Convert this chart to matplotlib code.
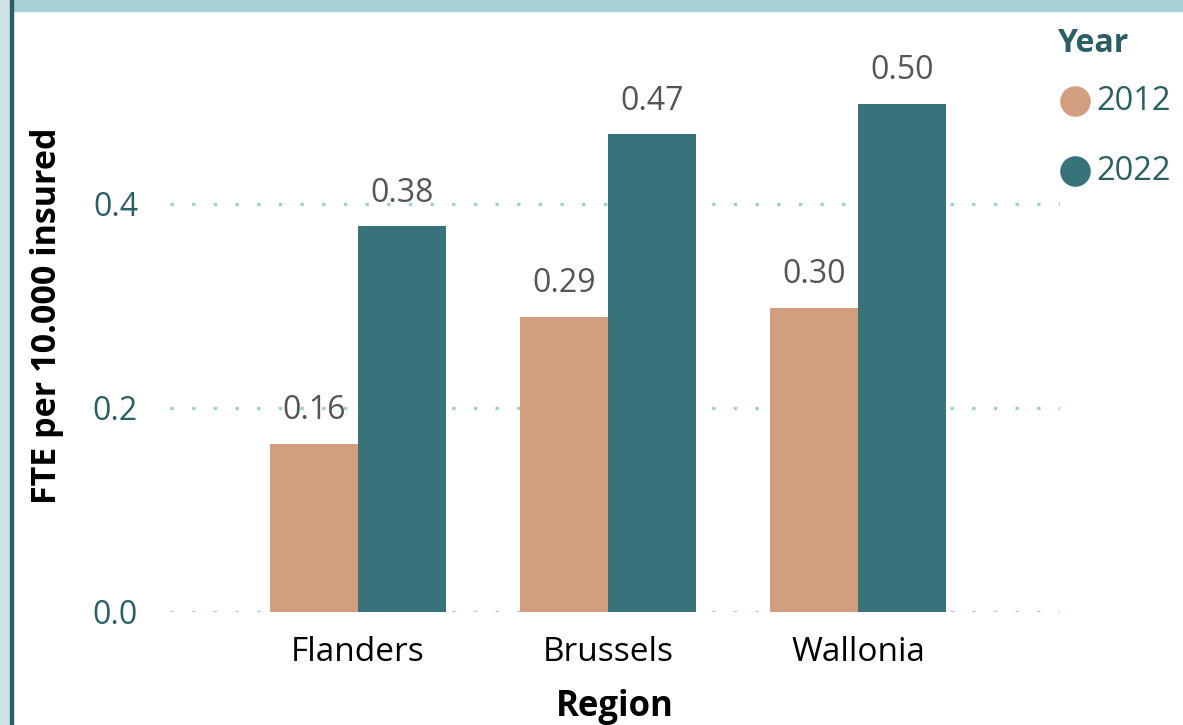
import matplotlib
matplotlib.use("Agg")
import matplotlib.pyplot as plt
import numpy as np
from matplotlib.lines import Line2D
from matplotlib.patches import Rectangle

regions = ["Flanders", "Brussels", "Wallonia"]
years = ["2012", "2022"]
values_2012 = [0.165, 0.289, 0.298]
values_2022 = [0.378, 0.468, 0.498]
labels_2012 = ["0.16", "0.29", "0.30"]
labels_2022 = ["0.38", "0.47", "0.50"]
yticks = [0.0, 0.2, 0.4]

c2012 = "#d19e7f"
c2022 = "#38737b"
teal_text = "#2b5f66"
W, H = 1183, 725

plt.rcParams['font.family'] = ['Open Sans', 'DejaVu Sans']

fig = plt.figure(figsize=(W/100, H/100), dpi=100)
fig.patch.set_facecolor("white")

# frame decorations
fig.add_artist(Rectangle((13/W, 1 - 11/H), 1, 11/H, transform=fig.transFigure, color="#a6d0d6", zorder=0))
fig.add_artist(Rectangle((0, 0), 10/W, 1, transform=fig.transFigure, color="#cde3e6", zorder=0))
fig.add_artist(Rectangle((10/W, 0), 3/W, 1, transform=fig.transFigure, color="#2b5d64", zorder=0))

ax = fig.add_axes([170/W, (H-612)/H, (1060-170)/W, (612-20)/H])
x = np.arange(len(regions))
w = 0.352
b1 = ax.bar(x - w/2, values_2012, w, color=c2012, zorder=2)
b2 = ax.bar(x + w/2, values_2022, w, color=c2022, zorder=2)

for bars, labs in ((b1, labels_2012), (b2, labels_2022)):
    for rect, lab in zip(bars, labs):
        ax.annotate(lab, (rect.get_x() + rect.get_width()/2, rect.get_height()),
                    xytext=(0, 12), textcoords="offset points", ha="center", va="bottom",
                    fontsize=23, color="#555555", zorder=0.4)

ax.set_xlim(-0.752, 2.808)
ax.set_ylim(0, 0.58)
ax.set_yticks(yticks)
ax.set_yticklabels([f"{v:.1f}" for v in yticks], fontsize=23, color=teal_text)
ax.set_xticks(x)
ax.set_xticklabels(regions, fontsize=24, color="black")
ax.tick_params(axis="both", length=0)
ax.tick_params(axis="y", pad=23)
ax.tick_params(axis="x", pad=17)
ax.set_axisbelow(True)
ax.grid(axis="y", color="#9ccfd8", linestyle=(0, (1, 5.5)), linewidth=2.4)
for s in ax.spines.values():
    s.set_visible(False)

ax.set_ylabel("FTE per 10.000 insured", fontsize=24.5, fontweight="bold", color="black", labelpad=21)
ax.set_xlabel("Region", fontsize=25, fontweight="bold", color="black", labelpad=15)

# legend
fig.text(1058/W, 1 - 43/H, "Year", fontsize=23, fontweight="bold", color=teal_text,
         ha="left", va="center")
colors = [c2012, c2022]
for i, (yr, col) in enumerate(zip(years, colors)):
    yc = 1 - (101 + 70*i)/H
    fig.add_artist(Line2D([1075/W], [yc], marker="o", linestyle="", markersize=22,
                          color=col, markeredgewidth=0, transform=fig.transFigure))
    fig.text(1096/W, yc - 1/H, yr, fontsize=23.5, color=teal_text, ha="left", va="center")

fig.savefig("out.png", dpi=100)
